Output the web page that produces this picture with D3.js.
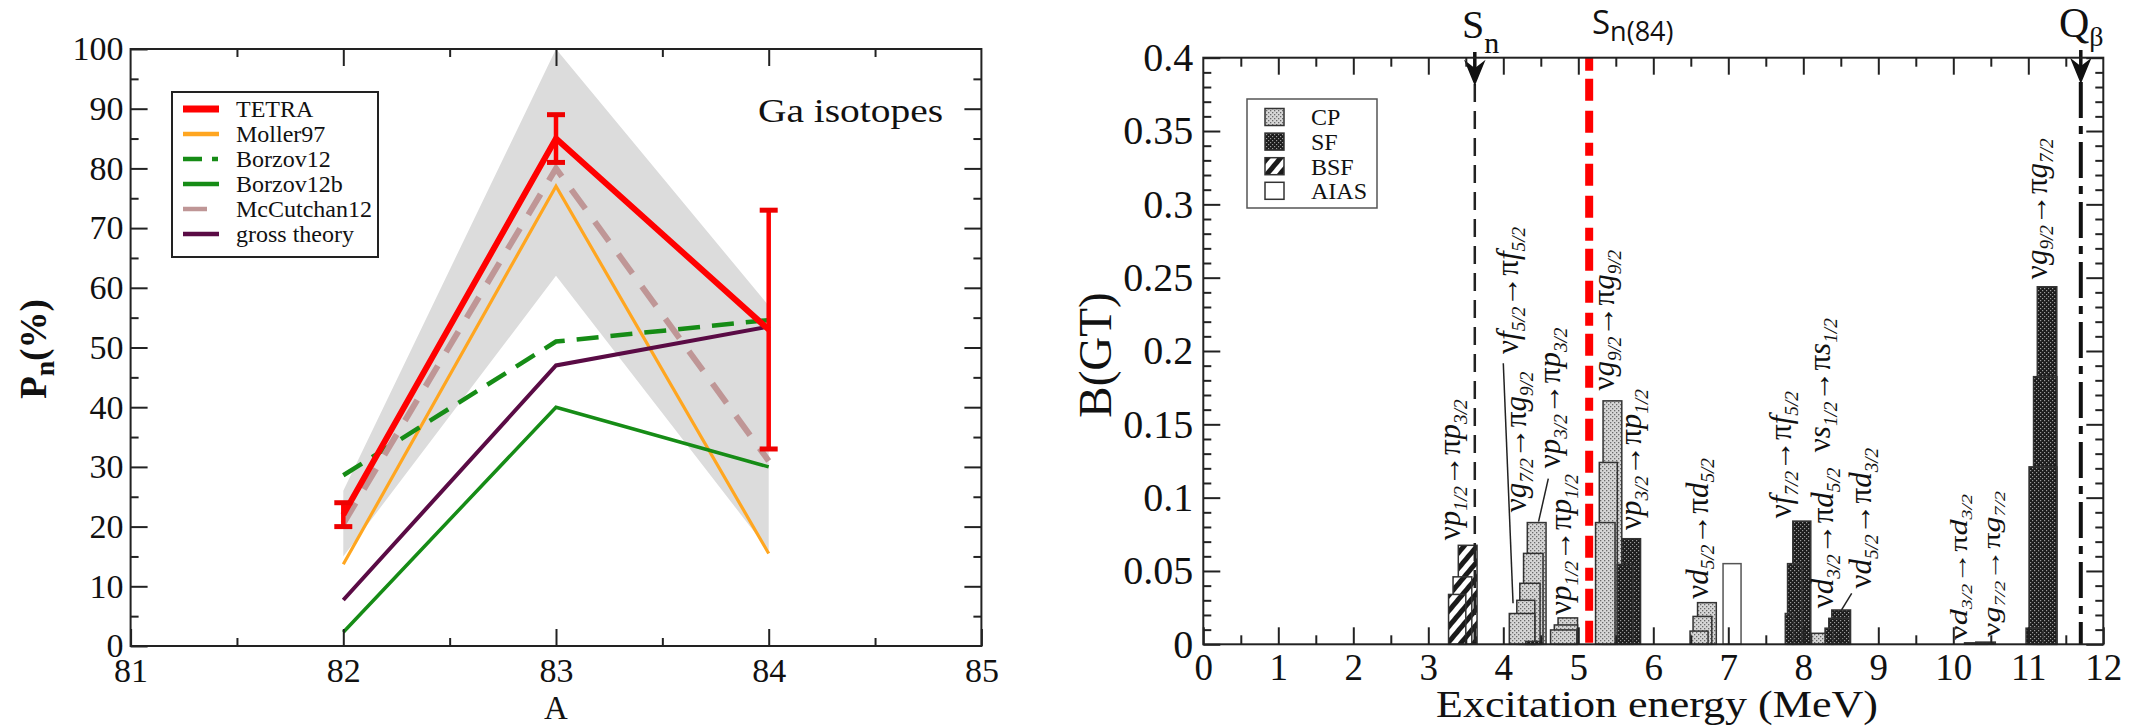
<html>
<head>
<meta charset="utf-8">
<style>
  body { margin: 0; background: #fff; }
  svg text { font-family: "Liberation Serif", "Times New Roman", Times, serif; fill: #111; }
  .tick line { stroke: #222; stroke-width: 2; }
</style>
<script src="https://cdn.jsdelivr.net/npm/d3@7"></script>
</head>
<body>
<svg id="chart" width="2138" height="728"></svg>
<script>
// ---------- left panel data (Pn of Ga isotopes) ----------
const massA       = [82, 83, 84];
const tetra       = [22, 85, 53];
const tetraLo     = [20, 81, 33];
const tetraHi     = [24, 89, 73];
const moller97    = [13.7, 77, 15.5];
const borzov12    = [28.6, 51, 54.6];
const borzov12b   = [2.3, 40, 30];
const mccutchan12 = [20.5, 80, 31];
const grossTheory = [7.7, 47, 53.5];
const bandLo      = [15, 62, 16];
const bandHi      = [26, 100, 57];

// ---------- right panel data (B(GT) vs excitation energy) ----------
// [start MeV, end MeV, B(GT)]
const cpBars = [
  [4.08, 4.42, 0.021], [4.18, 4.42, 0.030], [4.22, 4.49, 0.0416], [4.27, 4.53, 0.062], [4.32, 4.57, 0.083],
  [4.63, 4.98, 0.0098], [4.68, 4.99, 0.0132], [4.73, 4.99, 0.018],
  [5.23, 5.49, 0.083], [5.28, 5.52, 0.124], [5.33, 5.58, 0.166],
  [6.49, 6.73, 0.009], [6.53, 6.78, 0.019], [6.59, 6.84, 0.0284],
  [8.11, 8.29, 0.0075]
];
const sfBars = [
  [4.30, 4.50, 0.002],
  [5.52, 5.73, 0.0545], [5.58, 5.83, 0.072],
  [7.76, 7.87, 0.021], [7.79, 7.98, 0.055], [7.86, 8.10, 0.084],
  [8.29, 8.40, 0.011], [8.34, 8.62, 0.0177], [8.38, 8.63, 0.0234],
  [10.15, 10.45, 0.001], [10.30, 10.56, 0.0015],
  [10.97, 11.20, 0.011], [11.01, 11.38, 0.121], [11.07, 11.38, 0.1825], [11.12, 11.38, 0.2438]
];
const bsfBars  = [[3.27, 3.50, 0.034], [3.33, 3.58, 0.046], [3.40, 3.65, 0.0675]];
const aiasBars = [[6.93, 7.17, 0.055]];

const snEnergy = 3.62, sn84Energy = 5.145, qbEnergy = 11.70;

// transition labels: nu a_as -> pi b_bs, placed at (MeV, B(GT))
const transitions = [
  {a: "p", as: "1/2", b: "p", bs: "3/2", x: 3.33, y: 0.071},
  {a: "f", as: "5/2", b: "f", bs: "5/2", x: 4.10, y: 0.198},
  {a: "g", as: "7/2", b: "g", bs: "9/2", x: 4.21, y: 0.090},
  {a: "p", as: "3/2", b: "p", bs: "3/2", x: 4.66, y: 0.120},
  {a: "p", as: "1/2", b: "p", bs: "1/2", x: 4.81, y: 0.020},
  {a: "g", as: "9/2", b: "g", bs: "9/2", x: 5.38, y: 0.173},
  {a: "p", as: "3/2", b: "p", bs: "1/2", x: 5.74, y: 0.078},
  {a: "d", as: "5/2", b: "d", bs: "5/2", x: 6.63, y: 0.031},
  {a: "f", as: "7/2", b: "f", bs: "5/2", x: 7.74, y: 0.086},
  {a: "d", as: "3/2", b: "d", bs: "5/2", x: 8.30, y: 0.0245},
  {a: "s", as: "1/2", b: "s", bs: "1/2", x: 8.26, y: 0.131},
  {a: "d", as: "5/2", b: "d", bs: "3/2", x: 8.81, y: 0.038},
  {a: "d", as: "3/2", b: "d", bs: "3/2", x: 10.10, y: 0.003, small: true},
  {a: "g", as: "7/2", b: "g", bs: "7/2", x: 10.54, y: 0.005, small: true},
  {a: "g", as: "9/2", b: "g", bs: "7/2", x: 11.15, y: 0.249}
];
// leader lines [x1, y1, x2, y2] in MeV / B(GT)
const leaders = [
  [4.00, 0.1916, 4.13, 0.028],
  [4.60, 0.113, 4.47, 0.0836],
  [8.645, 0.0348, 8.51, 0.0234]
];

const SERIF = "'Liberation Serif', 'Times New Roman', Times, serif";
const svg = d3.select("#chart");
svg.append("rect").attr("width", 2138).attr("height", 728).attr("fill", "#fff");

// ================= LEFT PANEL =================
const xL = d3.scaleLinear().domain([81, 85]).range([130.6, 981.4]);
const yL = d3.scaleLinear().domain([0, 100]).range([646, 49]);
const left = svg.append("g");

left.append("clipPath").attr("id", "clipL").append("rect")
  .attr("x", xL(81)).attr("y", yL(100)).attr("width", xL(85) - xL(81)).attr("height", yL(0) - yL(100));
const plotL = left.append("g").attr("clip-path", "url(#clipL)");

let bandPts = massA.map((a, i) => [xL(a), yL(bandHi[i])])
  .concat(massA.map((a, i) => [xL(a), yL(bandLo[i])]).reverse());
plotL.append("path").attr("d", "M" + bandPts.join("L") + "Z").attr("fill", "#dcdcdc");

const line = d3.line().x((d, i) => xL(massA[i])).y(d => yL(d));
const series = [
  {name: "Moller97",     vals: moller97,    color: "#ffa620", w: 3.2, dash: null},
  {name: "Borzov12b",    vals: borzov12b,   color: "#168c16", w: 3.5, dash: null},
  {name: "gross theory", vals: grossTheory, color: "#5a0b45", w: 4,   dash: null},
  {name: "Borzov12",     vals: borzov12,    color: "#168c16", w: 4.5, dash: "22,12"},
  {name: "McCutchan12",  vals: mccutchan12, color: "#bf9696", w: 6,   dash: "24,16"},
  {name: "TETRA",        vals: tetra,       color: "#ff0000", w: 6,   dash: null}
];
series.forEach(s => {
  plotL.append("path").attr("d", line(s.vals)).attr("fill", "none")
    .attr("stroke", s.color).attr("stroke-width", s.w)
    .attr("stroke-dasharray", s.dash);
});
// TETRA error bars
massA.forEach((a, i) => {
  const x = xL(a);
  left.append("line").attr("x1", x).attr("x2", x).attr("y1", yL(tetraLo[i])).attr("y2", yL(tetraHi[i]))
    .attr("stroke", "#ff0000").attr("stroke-width", 4.5);
  [tetraLo[i], tetraHi[i]].forEach(v => {
    left.append("line").attr("x1", x - 9).attr("x2", x + 9).attr("y1", yL(v)).attr("y2", yL(v))
      .attr("stroke", "#ee0000").attr("stroke-width", 5);
  });
});

function styleAxis(g) {
  g.attr("font-family", null);
  g.select(".domain").remove();
  g.selectAll("text").style("fill", "#111").style("font-family", SERIF);
}
left.append("g").attr("transform", "translate(0,646)")
  .call(d3.axisBottom(xL).tickValues([81, 82, 83, 84, 85]).tickSize(-17).tickPadding(11.6).tickFormat(d3.format("d")))
  .call(styleAxis).selectAll("text").style("font-size", "34px");
left.append("g").attr("transform", "translate(0,646)")
  .call(d3.axisBottom(xL).tickValues([81.5, 82.5, 83.5, 84.5]).tickSize(-8).tickFormat("")).call(styleAxis);
left.append("g").attr("transform", "translate(0,49)")
  .call(d3.axisTop(xL).tickValues([82, 83, 84]).tickSize(-17).tickFormat("")).call(styleAxis);
left.append("g").attr("transform", "translate(0,49)")
  .call(d3.axisTop(xL).tickValues([81.5, 82.5, 83.5, 84.5]).tickSize(-8).tickFormat("")).call(styleAxis);
left.append("g").attr("transform", `translate(${xL(81)},0)`)
  .call(d3.axisLeft(yL).tickValues(d3.range(0, 101, 10)).tickSize(-17).tickPadding(7))
  .call(styleAxis).selectAll("text").style("font-size", "34px");
left.append("g").attr("transform", `translate(${xL(81)},0)`)
  .call(d3.axisLeft(yL).tickValues(d3.range(5, 100, 10)).tickSize(-8).tickFormat("")).call(styleAxis);
left.append("g").attr("transform", `translate(${xL(85)},0)`)
  .call(d3.axisRight(yL).tickValues(d3.range(10, 100, 10)).tickSize(-17).tickFormat("")).call(styleAxis);
left.append("g").attr("transform", `translate(${xL(85)},0)`)
  .call(d3.axisRight(yL).tickValues(d3.range(5, 100, 10)).tickSize(-8).tickFormat("")).call(styleAxis);
left.append("rect").attr("x", xL(81)).attr("y", yL(100)).attr("width", xL(85) - xL(81)).attr("height", yL(0) - yL(100))
  .attr("fill", "none").attr("stroke", "#222").attr("stroke-width", 2);

left.append("text").attr("x", xL(83)).attr("y", 719).attr("text-anchor", "middle").style("font-size", "33px").text("A");
const ylab = left.append("text").attr("transform", "translate(46,349) rotate(-90)").attr("text-anchor", "middle")
  .style("font-size", "37px").style("font-weight", "bold");
ylab.append("tspan").text("P");
ylab.append("tspan").attr("dy", "0.3em").style("font-size", "0.75em").text("n");
ylab.append("tspan").attr("dy", "-0.225em").text("(%)");
left.append("text").attr("x", 758).attr("y", 122).attr("textLength", 185).attr("lengthAdjust", "spacingAndGlyphs")
  .style("font-size", "33px").text("Ga isotopes");

// legend
const legL = left.append("g");
legL.append("rect").attr("x", 172).attr("y", 92).attr("width", 206).attr("height", 165)
  .attr("fill", "#fff").attr("stroke", "#222").attr("stroke-width", 2);
const legOrder = ["TETRA", "Moller97", "Borzov12", "Borzov12b", "McCutchan12", "gross theory"];
legOrder.forEach((n, i) => {
  const s = series.find(d => d.name === n);
  const y = 109 + i * 25;
  legL.append("line").attr("x1", 183).attr("x2", n === "McCutchan12" ? 207 : 219).attr("y1", y).attr("y2", y)
    .attr("stroke", s.color).attr("stroke-width", n === "TETRA" ? 7 : 4.5)
    .attr("stroke-dasharray", n === "Borzov12" ? "19,10,6,10" : null);
  legL.append("text").attr("x", 236).attr("y", y).attr("dy", "0.35em").style("font-size", "24px").text(n);
});

// ================= RIGHT PANEL =================
const xR = d3.scaleLinear().domain([0, 12]).range([1203.3, 2103.3]);
const yR = d3.scaleLinear().domain([0, 0.4]).range([644.3, 57.7]);
const right = svg.append("g");
const defs = svg.append("defs");

const pCP = defs.append("pattern").attr("id", "pCP").attr("patternUnits", "userSpaceOnUse").attr("width", 4).attr("height", 4);
pCP.append("rect").attr("width", 4).attr("height", 4).attr("fill", "#d6d6d6");
pCP.append("rect").attr("width", 1.3).attr("height", 1.3).attr("fill", "#6a6a6a");
pCP.append("rect").attr("x", 2).attr("y", 2).attr("width", 1.3).attr("height", 1.3).attr("fill", "#6a6a6a");
const pSF = defs.append("pattern").attr("id", "pSF").attr("patternUnits", "userSpaceOnUse").attr("width", 4).attr("height", 4);
pSF.append("rect").attr("width", 4).attr("height", 4).attr("fill", "#1c1c1c");
pSF.append("rect").attr("width", 1.2).attr("height", 1.2).attr("fill", "#9a9a9a");
pSF.append("rect").attr("x", 2).attr("y", 2).attr("width", 1.2).attr("height", 1.2).attr("fill", "#9a9a9a");
const pBSF = defs.append("pattern").attr("id", "pBSF").attr("patternUnits", "userSpaceOnUse")
  .attr("width", 10).attr("height", 10).attr("patternTransform", "rotate(40)");
pBSF.append("rect").attr("width", 10).attr("height", 10).attr("fill", "#fff");
pBSF.append("rect").attr("width", 5).attr("height", 10).attr("fill", "#1a1a1a");

const allBars = [].concat(
  cpBars.map(d => ({b: d, fill: "url(#pCP)"})),
  sfBars.map(d => ({b: d, fill: "url(#pSF)"})),
  bsfBars.map(d => ({b: d, fill: "url(#pBSF)"})),
  aiasBars.map(d => ({b: d, fill: "#fff"}))
).sort((p, q) => q.b[2] - p.b[2]);

right.selectAll("rect.bar").data(allBars).enter().append("rect").attr("class", "bar")
  .attr("x", d => xR(d.b[0])).attr("width", d => xR(d.b[1]) - xR(d.b[0]))
  .attr("y", d => yR(d.b[2])).attr("height", d => yR(0) - yR(d.b[2]))
  .attr("fill", d => d.fill).attr("stroke", d => d.fill === "#fff" ? "#555" : "#333").attr("stroke-width", 1.5);

// vertical markers
right.append("line").attr("x1", xR(snEnergy)).attr("x2", xR(snEnergy)).attr("y1", 84).attr("y2", yR(0))
  .attr("stroke", "#222").attr("stroke-width", 2.5).attr("stroke-dasharray", "18,9");
right.append("line").attr("x1", xR(sn84Energy)).attr("x2", xR(sn84Energy)).attr("y1", yR(0.4)).attr("y2", yR(0))
  .attr("stroke", "#ff0000").attr("stroke-width", 8).attr("stroke-dasharray", "13,8,22,10,22,10");
right.append("line").attr("x1", xR(qbEnergy)).attr("x2", xR(qbEnergy)).attr("y1", 82).attr("y2", yR(0))
  .attr("stroke", "#111").attr("stroke-width", 4).attr("stroke-dasharray", "36,8,8,8");

function arrow(x, top, tip) {
  right.append("line").attr("x1", x).attr("x2", x).attr("y1", top).attr("y2", tip - 8)
    .attr("stroke", "#111").attr("stroke-width", 3.5);
  right.append("path").attr("d", `M${x},${tip} L${x - 9},${tip - 22} L${x},${tip - 15} L${x + 9},${tip - 22} Z`)
    .attr("fill", "#111").attr("stroke", "#111").attr("stroke-width", 1.5);
}
arrow(xR(snEnergy), 52, 84);
arrow(xR(qbEnergy), 50, 82);

// leader lines
leaders.forEach(l => {
  right.append("line").attr("x1", xR(l[0])).attr("y1", yR(l[1])).attr("x2", xR(l[2])).attr("y2", yR(l[3]))
    .attr("stroke", "#222").attr("stroke-width", 1.5);
});

// transition labels
transitions.forEach(L => {
  const fs = L.small ? 25 : 31;
  const t = right.append("text")
    .attr("transform", `translate(${xR(L.x) + 0.23 * fs},${yR(L.y)}) rotate(-90)`)
    .style("font-size", fs + "px");
  if (L.small) t.attr("textLength", 146).attr("lengthAdjust", "spacingAndGlyphs");
  t.append("tspan").text("ν");
  t.append("tspan").style("font-style", "italic").text(L.a);
  t.append("tspan").style("font-style", "italic").style("font-size", "0.62em").attr("dy", "0.35em").text(L.as);
  t.append("tspan").attr("dy", "-0.217em").text("→");
  t.append("tspan").text("π");
  t.append("tspan").style("font-style", "italic").text(L.b);
  t.append("tspan").style("font-style", "italic").style("font-size", "0.62em").attr("dy", "0.35em").text(L.bs);
});

// axes
const fmtR = d => d === 0 ? "0" : String(+d.toFixed(2));
const majorY = d3.range(0, 0.4001, 0.05).map(d => +d.toFixed(2));
const minorY = d3.range(0, 0.4001, 0.01).map(d => +d.toFixed(2)).filter(d => Math.round(d * 100) % 5 !== 0);
right.append("g").attr("transform", `translate(0,${yR(0)})`)
  .call(d3.axisBottom(xR).tickValues(d3.range(0, 13)).tickSize(-17).tickPadding(9.4))
  .call(styleAxis).selectAll("text").style("font-size", "37px");
right.append("g").attr("transform", `translate(0,${yR(0)})`)
  .call(d3.axisBottom(xR).tickValues(d3.range(0.5, 12, 1)).tickSize(-9).tickFormat("")).call(styleAxis);
right.append("g").attr("transform", `translate(0,${yR(0.4)})`)
  .call(d3.axisTop(xR).tickValues(d3.range(1, 12)).tickSize(-17).tickFormat("")).call(styleAxis);
right.append("g").attr("transform", `translate(0,${yR(0.4)})`)
  .call(d3.axisTop(xR).tickValues(d3.range(0.5, 12, 1)).tickSize(-9).tickFormat("")).call(styleAxis);
right.append("g").attr("transform", `translate(${xR(0)},0)`)
  .call(d3.axisLeft(yR).tickValues(majorY).tickSize(-17).tickPadding(10).tickFormat(fmtR))
  .call(styleAxis).selectAll("text").style("font-size", "40px");
right.append("g").attr("transform", `translate(${xR(0)},0)`)
  .call(d3.axisLeft(yR).tickValues(minorY).tickSize(-8).tickFormat("")).call(styleAxis);
right.append("g").attr("transform", `translate(${xR(12)},0)`)
  .call(d3.axisRight(yR).tickValues(majorY).tickSize(-17).tickFormat("")).call(styleAxis);
right.append("g").attr("transform", `translate(${xR(12)},0)`)
  .call(d3.axisRight(yR).tickValues(minorY).tickSize(-8).tickFormat("")).call(styleAxis);
right.append("rect").attr("x", xR(0)).attr("y", yR(0.4)).attr("width", xR(12) - xR(0)).attr("height", yR(0) - yR(0.4))
  .attr("fill", "none").attr("stroke", "#222").attr("stroke-width", 2);

right.append("text").attr("x", 1657).attr("y", 717).attr("text-anchor", "middle")
  .attr("textLength", 442).attr("lengthAdjust", "spacingAndGlyphs").style("font-size", "37px")
  .text("Excitation energy (MeV)");
right.append("text").attr("transform", "translate(1111,355) rotate(-90)").attr("text-anchor", "middle")
  .style("font-size", "47px").text("B(GT)");

// top labels
const sn = right.append("text").attr("x", 1462).attr("y", 38).style("font-size", "40px");
sn.append("tspan").text("S");
sn.append("tspan").attr("dy", "15").style("font-size", "30px").text("n");
const sn84 = right.append("text").attr("x", 1592).attr("y", 34)
  .style("font-family", "'Open Sans', 'Liberation Sans', sans-serif").style("font-size", "33px");
sn84.append("tspan").text("S");
sn84.append("tspan").attr("dy", "7").style("font-size", "27px").text("n(84)");
const qb = right.append("text").attr("x", 2059).attr("y", 37).style("font-size", "42px");
qb.append("tspan").text("Q");
qb.append("tspan").attr("dy", "9").style("font-size", "28px").text("β");

// legend
const legR = right.append("g");
legR.append("rect").attr("x", 1247).attr("y", 99).attr("width", 130).attr("height", 109)
  .attr("fill", "#fff").attr("stroke", "#555").attr("stroke-width", 1.5);
const legTypes = [["CP", "url(#pCP)"], ["SF", "url(#pSF)"], ["BSF", "url(#pBSF)"], ["AIAS", "#fff"]];
legTypes.forEach((d, i) => {
  const cy = 117 + i * 24.6;
  legR.append("rect").attr("x", 1265).attr("y", cy - 8.5).attr("width", 19).attr("height", 17)
    .attr("fill", d[1]).attr("stroke", "#333").attr("stroke-width", 1.5);
  legR.append("text").attr("x", 1311).attr("y", cy).attr("dy", "0.35em").style("font-size", "24px").text(d[0]);
});
</script>
</body>
</html>
